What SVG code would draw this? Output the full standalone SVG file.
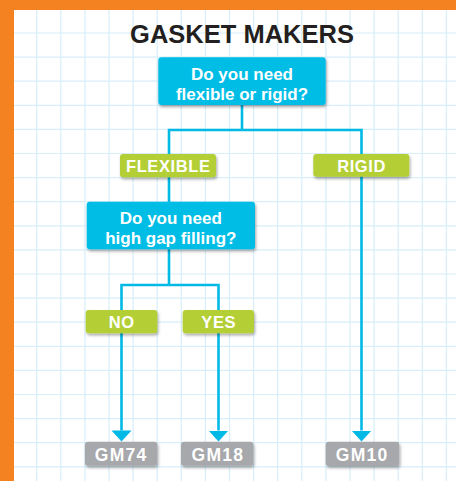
<svg xmlns="http://www.w3.org/2000/svg" width="456" height="481" viewBox="0 0 456 481">
<defs>
<style>
.grid{stroke:#d8eef9;stroke-width:1.2;fill:none}
.conn{stroke:#00b9e5;stroke-width:2.6;fill:none}
.q{fill:#00bde6}
.g{fill:#b3cf36}
.r{fill:#a7a8ab}
.t{font-family:"Liberation Sans",Arial,sans-serif;font-weight:bold;fill:#fff;text-anchor:middle}
.qt{font-size:17px}
.gt{font-size:16.5px;letter-spacing:0.6px}
.rt{font-size:17.5px;letter-spacing:1.3px}
</style>
<filter id="sh" x="-10%" y="-20%" width="125%" height="160%">
<feDropShadow dx="1" dy="2" stdDeviation="1.4" flood-color="#000" flood-opacity="0.35"/>
</filter>
<marker id="ah" markerUnits="userSpaceOnUse" viewBox="0 0 11 20" refX="0" refY="10" markerWidth="11" markerHeight="20" orient="auto">
<path d="M0,0 L11,10 L0,20 z" fill="#00b9e5"/>
</marker>
</defs>
<rect width="456" height="481" fill="#fff"/>
<path class="grid" d="M36.7,0V481M60.8,0V481M84.9,0V481M109,0V481M133.1,0V481M157.2,0V481M181.3,0V481M205.4,0V481M229.5,0V481M253.6,0V481M277.7,0V481M301.8,0V481M325.9,0V481M350,0V481M374.1,0V481M398.2,0V481M422.3,0V481M446.4,0V481M0,33H456M0,57.1H456M0,81.2H456M0,105.3H456M0,129.4H456M0,153.5H456M0,177.6H456M0,201.7H456M0,225.8H456M0,249.9H456M0,274H456M0,298.1H456M0,322.2H456M0,346.3H456M0,370.4H456M0,394.5H456M0,418.6H456M0,442.7H456M0,466.8H456"/>
<rect x="0" y="0" width="456" height="10" fill="#f58220"/>
<rect x="0" y="0" width="14" height="481" fill="#f58220"/>
<text x="242" y="43" font-family="'Liberation Sans',Arial,sans-serif" font-weight="bold" font-size="25.5" fill="#231f20" text-anchor="middle">GASKET MAKERS</text>
<g id="connectors">
<path class="conn" d="M242,105V130"/>
<path class="conn" d="M169,202V130H361.5V430.5" marker-end="url(#ah)"/>
<path class="conn" d="M169,249V285"/>
<path class="conn" d="M121.5,430.5V285H218.5V430.5" marker-end="url(#ah)"/>
<path d="M111.5,430.5H131.5L121.5,441.5z" fill="#00b9e5"/>
</g>
<g id="q1">
<rect class="q" x="158.3" y="57.3" width="167.4" height="47.7" rx="3" filter="url(#sh)"/>
<text class="t qt" x="242" y="79.5">Do you need</text>
<text class="t qt" x="242" y="99.5">flexible or rigid?</text>
</g>
<g id="flexible">
<rect class="g" x="120" y="154" width="96" height="23.3" rx="3" filter="url(#sh)"/>
<text class="t gt" x="168.3" y="172.3">FLEXIBLE</text>
</g>
<g id="rigid">
<rect class="g" x="313.3" y="154" width="96" height="22.8" rx="3" filter="url(#sh)"/>
<text class="t gt" x="361.6" y="172.2">RIGID</text>
</g>
<g id="q2">
<rect class="q" x="86.7" y="201.7" width="168.3" height="47.6" rx="3" filter="url(#sh)"/>
<text class="t qt" x="170.8" y="224">Do you need</text>
<text class="t qt" x="170.8" y="243.5">high gap filling?</text>
</g>
<g id="no">
<rect class="g" x="85.7" y="310" width="71.6" height="23.3" rx="3" filter="url(#sh)"/>
<text class="t gt" x="121.8" y="327.6">NO</text>
</g>
<g id="yes">
<rect class="g" x="182.7" y="310" width="71.3" height="23.3" rx="3" filter="url(#sh)"/>
<text class="t gt" x="218.7" y="327.6">YES</text>
</g>
<g id="gm74">
<rect class="r" x="85" y="441.7" width="72.3" height="24" rx="3" filter="url(#sh)"/>
<text class="t rt" x="121.2" y="460.6">GM74</text>
</g>
<g id="gm18">
<rect class="r" x="181" y="441.7" width="72.3" height="24" rx="3" filter="url(#sh)"/>
<text class="t rt" x="217.9" y="460.6">GM18</text>
</g>
<g id="gm10">
<rect class="r" x="325.7" y="441.7" width="73.6" height="24.3" rx="3" filter="url(#sh)"/>
<text class="t rt" x="362.2" y="460.6">GM10</text>
</g>
</svg>
